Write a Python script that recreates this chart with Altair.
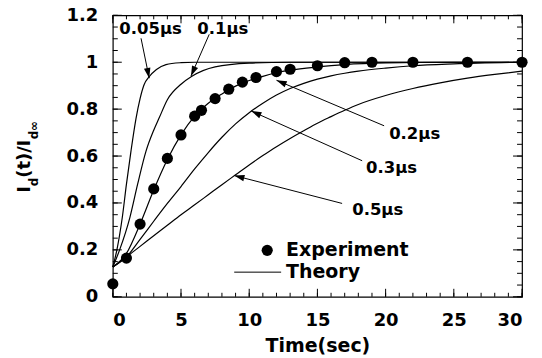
import math
import altair as alt
import pandas as pd

# ---------------- data ----------------
t_exp = [0, 1, 2, 3, 4, 5, 6, 6.5, 7.5, 8.5, 9.5, 10.5, 12, 13, 15, 17, 19, 22, 26, 30]
y_exp = [0.055, 0.165, 0.31, 0.46, 0.59, 0.69, 0.77, 0.795, 0.845, 0.885, 0.915, 0.935,
         0.96, 0.97, 0.985, 0.998, 1.0, 1.0, 1.0, 1.0]

t_005 = [0, 0.3, 0.7, 1.0, 1.33, 1.7, 2.0, 2.3, 2.65, 3.2, 3.9, 5, 6, 30]
y_005 = [0.127, 0.2, 0.34, 0.48, 0.62, 0.76, 0.845, 0.905, 0.937, 0.969, 0.99, 0.998, 1.0, 1.0]

t_01 = [0, 0.5, 1.26, 1.82, 2.43, 3.0, 3.41, 4.0, 5.0, 5.8, 7.5, 10, 13, 30]
y_01 = [0.127, 0.2, 0.34, 0.48, 0.62, 0.71, 0.764, 0.84, 0.906, 0.94, 0.98, 0.996, 1.0, 1.0]

t_02 = [0, 1, 2, 3, 4, 5, 6, 7, 8, 9, 10, 11, 12, 13, 15, 17, 20, 25, 30]
y_02 = [0.127, 0.185, 0.31, 0.455, 0.585, 0.69, 0.77, 0.825, 0.865, 0.898, 0.922, 0.94,
        0.955, 0.966, 0.98, 0.99, 0.997, 1.0, 1.0]

t_03 = [0, 1, 2, 3, 4, 5, 6, 7, 8, 9, 10, 11, 12, 13, 14, 15, 16, 17, 18, 20, 22, 25, 30]
y_03 = [0.127, 0.17, 0.245, 0.322, 0.398, 0.47, 0.545, 0.615, 0.68, 0.737, 0.785, 0.825,
        0.86, 0.888, 0.91, 0.928, 0.942, 0.953, 0.962, 0.975, 0.985, 0.993, 1.0]

t_05 = [0, 1, 2, 3, 4, 5, 6, 7, 8, 9, 10, 11, 12, 13, 14, 15, 16, 17, 18, 20, 22, 24, 26, 28, 30]
y_05 = [0.127, 0.17, 0.215, 0.26, 0.305, 0.35, 0.392, 0.435, 0.478, 0.52, 0.562, 0.602,
        0.64, 0.675, 0.708, 0.74, 0.768, 0.795, 0.82, 0.858, 0.888, 0.912, 0.932, 0.948, 0.962]

curve_labels = ["0.05\u00b5s", "0.1\u00b5s", "0.2\u00b5s", "0.3\u00b5s", "0.5\u00b5s"]
# label anchor (left, middle) and arrow start / tip, in data units
label_x = [0.48, 6.19, 20.26, 18.57, 17.55]
label_y = [1.14, 1.14, 0.695, 0.55, 0.368]
arrow_x1 = [2.07, 7.07, 19.89, 18.28, 16.81]
arrow_y1 = [1.102, 1.119, 0.729, 0.58, 0.398]
arrow_x2 = [2.67, 5.73, 12.0, 10.15, 8.9]
arrow_y2 = [0.932, 0.941, 0.923, 0.792, 0.517]

x_major = [0, 5, 10, 15, 20, 25, 30]
x_minor = list(range(0, 31))
y_major = [0, 0.2, 0.4, 0.6, 0.8, 1, 1.2]
y_minor = [i * 0.05 for i in range(0, 25)]

# ---------------- layout ----------------
W, H = 410, 282
FONT = "DejaVu Sans"
xs = alt.Scale(domain=[0, 30], nice=False, zero=False)
ys = alt.Scale(domain=[0, 1.2], nice=False, zero=False)

rows = []
for name, ts, vs in zip(curve_labels, [t_005, t_01, t_02, t_03, t_05],
                        [y_005, y_01, y_02, y_03, y_05]):
    for t, v in zip(ts, vs):
        rows.append({"curve": name, "t": t, "y": v})
theory_df = pd.DataFrame(rows)
exp_df = pd.DataFrame({"t": t_exp, "y": y_exp})

base_x = alt.X("t:Q", scale=xs,
               axis=alt.Axis(values=x_major, format="d", ticks=False, domain=False, grid=False,
                             labelFont=FONT, labelFontSize=18, labelFontWeight="bold",
                             labelColor="black", labelPadding=15,
                             title="Time(sec)", titleFont=FONT, titleFontSize=19,
                             titleFontWeight="bold", titleColor="black", titlePadding=7))
base_y = alt.Y("y:Q", scale=ys,
               axis=alt.Axis(values=y_major, format="~g", ticks=False, domain=False, grid=False,
                             labelFont=FONT, labelFontSize=18, labelFontWeight="bold",
                             labelColor="black", labelPadding=15, title=None))

theory = alt.Chart(theory_df).mark_line(color="black", strokeWidth=1.2, interpolate="monotone").encode(
    x=base_x, y=base_y, detail="curve:N")

exp_pts = alt.Chart(exp_df).mark_circle(color="black", opacity=1, size=125).encode(
    x=alt.X("t:Q", scale=xs), y=alt.Y("y:Q", scale=ys))

# annotations
ann_rows = []
for i, lab in enumerate(curve_labels):
    dx = (arrow_x2[i] - arrow_x1[i]) * W / 30
    dy = -(arrow_y2[i] - arrow_y1[i]) * H / 1.2
    ang = math.degrees(math.atan2(dx, -dy)) % 360
    ann_rows.append({"label": lab, "lx": label_x[i], "ly": label_y[i],
                     "x1": arrow_x1[i], "y1": arrow_y1[i],
                     "x2": arrow_x2[i], "y2": arrow_y2[i], "ang": ang})
ann_df = pd.DataFrame(ann_rows)

ann_text = alt.Chart(ann_df).mark_text(align="left", baseline="middle", font=FONT,
                                       fontSize=16.5, fontWeight="bold", color="black").encode(
    x=alt.X("lx:Q", scale=xs), y=alt.Y("ly:Q", scale=ys), text="label:N")
ann_line = alt.Chart(ann_df).mark_rule(color="black", strokeWidth=1).encode(
    x=alt.X("x1:Q", scale=xs), y=alt.Y("y1:Q", scale=ys), x2="x2:Q", y2="y2:Q")
ann_head = alt.Chart(ann_df).mark_point(shape="M0,0 L0.32,1 L-0.32,1 Z", filled=True,
                                        color="black", opacity=1, size=420, strokeWidth=0).encode(
    x=alt.X("x2:Q", scale=xs), y=alt.Y("y2:Q", scale=ys), angle=alt.Angle("ang:Q", scale=None))

# legend (drawn in data space)
leg_df = pd.DataFrame({"x": [11.32], "y": [0.198]})
leg_dot = alt.Chart(leg_df).mark_circle(color="black", opacity=1, size=125).encode(
    x=alt.X("x:Q", scale=xs), y=alt.Y("y:Q", scale=ys))
leg_txt_df = pd.DataFrame({"x": [12.7, 12.7], "y": [0.198, 0.105], "t": ["Experiment", "Theory"]})
leg_txt = alt.Chart(leg_txt_df).mark_text(align="left", baseline="middle", font=FONT, fontSize=19,
                                          fontWeight="bold", color="black").encode(
    x=alt.X("x:Q", scale=xs), y=alt.Y("y:Q", scale=ys), text="t:N")
leg_line_df = pd.DataFrame({"x": [8.9], "x2": [12.34], "y": [0.105]})
leg_line = alt.Chart(leg_line_df).mark_rule(color="black", strokeWidth=1).encode(
    x=alt.X("x:Q", scale=xs), x2="x2:Q", y=alt.Y("y:Q", scale=ys))

# inward ticks on all four sides
def xticks(vals, length):
    d = pd.DataFrame({"v": vals})
    b = alt.Chart(d).mark_rule(color="black", strokeWidth=1).encode(
        x=alt.X("v:Q", scale=xs), y=alt.value(H), y2=alt.value(H - length))
    t = alt.Chart(d).mark_rule(color="black", strokeWidth=1).encode(
        x=alt.X("v:Q", scale=xs), y=alt.value(0), y2=alt.value(length))
    return [b, t]

def yticks(vals, length):
    d = pd.DataFrame({"v": vals})
    l = alt.Chart(d).mark_rule(color="black", strokeWidth=1).encode(
        y=alt.Y("v:Q", scale=ys), x=alt.value(0), x2=alt.value(length))
    r = alt.Chart(d).mark_rule(color="black", strokeWidth=1).encode(
        y=alt.Y("v:Q", scale=ys), x=alt.value(W), x2=alt.value(W - length))
    return [l, r]

ticks = xticks(x_minor, 4) + xticks(x_major, 8) + yticks(y_minor, 5) + yticks(y_major, 9)

# y-axis title I_d(t)/I_d∞ built from pieces
def ytitle_piece(txt, xpix, ypix, size):
    return alt.Chart(pd.DataFrame({"a": [0]})).mark_text(
        text=txt, angle=270, align="center", baseline="alphabetic", font=FONT,
        fontSize=size, fontWeight="bold", color="black").encode(
        x=alt.value(xpix), y=alt.value(ypix))

ytitle = [
    ytitle_piece("I", -83, 174.5, 18),
    ytitle_piece("d", -75, 167, 12),
    ytitle_piece("(t)/", -83, 147, 18),
    ytitle_piece("I", -83, 128, 18),
    ytitle_piece("d", -75, 120, 12),
    ytitle_piece("\u221e", -75, 111, 12),
]

chart = alt.layer(theory, *ticks, exp_pts, ann_line, ann_head, ann_text,
                  leg_dot, leg_line, leg_txt, *ytitle).properties(
    width=W, height=H, autosize="none",
    padding={"left": 105, "top": 7, "right": 12, "bottom": 60},
    background="white",
).configure_view(stroke="black", strokeWidth=1.2)

chart.save("out.html", embed_options={"renderer": "svg", "actions": False})
